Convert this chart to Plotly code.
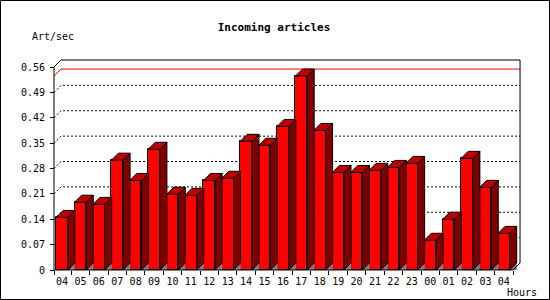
import plotly.graph_objects as go

# ---------------- data ----------------
hours = ["04", "05", "06", "07", "08", "09", "10", "11", "12", "13", "14", "15",
         "16", "17", "18", "19", "20", "21", "22", "23", "00", "01", "02", "03", "04"]
rate = [0.145, 0.187, 0.181, 0.303, 0.247, 0.333, 0.209, 0.206, 0.247, 0.253,
        0.355, 0.344, 0.396, 0.535, 0.385, 0.269, 0.269, 0.275, 0.283, 0.294,
        0.082, 0.140, 0.308, 0.228, 0.101]
y_ticks = [0, 0.07, 0.14, 0.21, 0.28, 0.35, 0.42, 0.49, 0.56]
y_tick_text = ["0", "0.07", "0.14", "0.21", "0.28", "0.35", "0.42", "0.49", "0.56"]

# ---------------- layout geometry ----------------
W, H = 550, 300
L, R, T, B = 50, 526, 56, 274          # plot area in pixels
X0PX, PXX = 62.0, 18.41                # pixel of first category centre, px per category
Y0PX, PXY = 270.0, 362.5               # pixel of value 0, px per unit
FRONT_LEFT_PX = 54.0
DEPTH_PX = 7.0

def xv(px):
    return (px - X0PX) / PXX

def yv(py):
    return (Y0PX - py) / PXY

def paper_x(px):
    return (px - L) / (R - L)

def paper_y(py):
    return (B - py) / (B - T)

n = len(rate)
DX = DEPTH_PX / PXX
DY = DEPTH_PX / PXY
BW = 0.635
x_left = xv(FRONT_LEFT_PX)
x_right = n - 0.5
y_top = y_ticks[-1]

FONT = "DejaVu Sans Mono"

fig = go.Figure()

# front faces
fig.add_trace(go.Bar(
    x=list(range(n)), y=rate, width=BW,
    marker=dict(color="#ff0000", line=dict(color="black", width=1)),
    hoverinfo="skip", showlegend=False,
))

# shadow triangles, side faces, top faces
sx, sy, dxs, dys, tx, ty = [], [], [], [], [], []
for i, v in enumerate(rate):
    xl, xr = i - BW / 2, i + BW / 2
    sx += [xr, xr + DX, xr + DX, xr, None]
    sy += [0, DY, 0, 0, None]
    dxs += [xr, xr + DX, xr + DX, xr, xr, None]
    dys += [v, v + DY, DY, 0, v, None]
    tx += [xl, xl + DX, xr + DX, xr, xl, None]
    ty += [v, v + DY, v + DY, v, v, None]

fig.add_trace(go.Scatter(x=sx, y=sy, mode="lines", fill="toself",
                         fillcolor="#808080", line=dict(width=0, color="#808080"),
                         hoverinfo="skip", showlegend=False))
fig.add_trace(go.Scatter(x=dxs, y=dys, mode="lines", fill="toself",
                         fillcolor="#800000", line=dict(width=1, color="black"),
                         hoverinfo="skip", showlegend=False))
fig.add_trace(go.Scatter(x=tx, y=ty, mode="lines", fill="toself",
                         fillcolor="#c00000", line=dict(width=1, color="black"),
                         hoverinfo="skip", showlegend=False))

shapes = []
# dotted gridlines on the back plane
for v in y_ticks[1:-1]:
    shapes.append(dict(
        type="path", xref="x", yref="y", layer="below",
        path=f"M {x_left},{v} L {x_left + DX},{v + DY} L {x_right + DX},{v + DY}",
        line=dict(color="black", width=1, dash="2px,2px"),
    ))
# max line
vmax = max(rate)
shapes.append(dict(
    type="path", xref="x", yref="y", layer="below",
    path=f"M {x_left},{vmax} L {x_left + DX},{vmax + DY} L {x_right + DX},{vmax + DY}",
    line=dict(color="#ff0000", width=1),
))
# frame
shapes.append(dict(
    type="path", xref="x", yref="y", layer="above",
    path=(f"M {x_left},0 L {x_left},{y_top} L {x_left + DX},{y_top + DY} "
          f"L {x_right + DX},{y_top + DY} L {x_right + DX},{DY} L {x_right},0 Z"),
    line=dict(color="black", width=1),
))
# outer border
shapes.append(dict(
    type="rect", xref="paper", yref="paper",
    x0=paper_x(0.5), x1=paper_x(W - 0.5), y0=paper_y(H - 0.5), y1=paper_y(0.5),
    line=dict(color="black", width=1),
))

fig.update_layout(
    width=W, height=H, autosize=False,
    margin=dict(l=L, r=W - R, t=T, b=H - B, pad=0),
    paper_bgcolor="white", plot_bgcolor="white",
    showlegend=False, bargap=0,
    title=dict(text="Incoming articles", x=274 / W, xanchor="center",
               y=1 - 27.5 / H, yanchor="middle",
               font=dict(family=FONT, size=11, color="black", weight="bold")),
    xaxis=dict(
        range=[xv(L), xv(R)], anchor="free", position=paper_y(Y0PX),
        tickmode="array", tickvals=list(range(n)), ticktext=hours,
        ticks="", showgrid=False, zeroline=False, showline=False,
        ticklabelstandoff=4,
        tickfont=dict(family=FONT, size=10, color="black"),
        minor=dict(tickmode="array",
                   tickvals=[x_left] + [i + 0.5 for i in range(n)],
                   ticks="outside", ticklen=4, tickcolor="black", showgrid=False),
    ),
    yaxis=dict(
        range=[yv(B), yv(T)], anchor="free", position=paper_x(FRONT_LEFT_PX),
        tickmode="array", tickvals=y_ticks, ticktext=y_tick_text,
        ticks="outside", ticklen=4, tickcolor="black",
        showgrid=False, zeroline=False, showline=False,
        ticklabelstandoff=3,
        tickfont=dict(family=FONT, size=10, color="black"),
    ),
    shapes=shapes,
    annotations=[
        dict(text="Art/sec", xref="paper", yref="paper", x=paper_x(30), y=paper_y(37),
             xanchor="left", yanchor="middle", showarrow=False,
             font=dict(family=FONT, size=10, color="black")),
        dict(text="Hours", xref="paper", yref="paper", x=paper_x(505), y=paper_y(292),
             xanchor="left", yanchor="middle", showarrow=False,
             font=dict(family=FONT, size=10, color="black")),
    ],
)

fig.write_html("out.html")
